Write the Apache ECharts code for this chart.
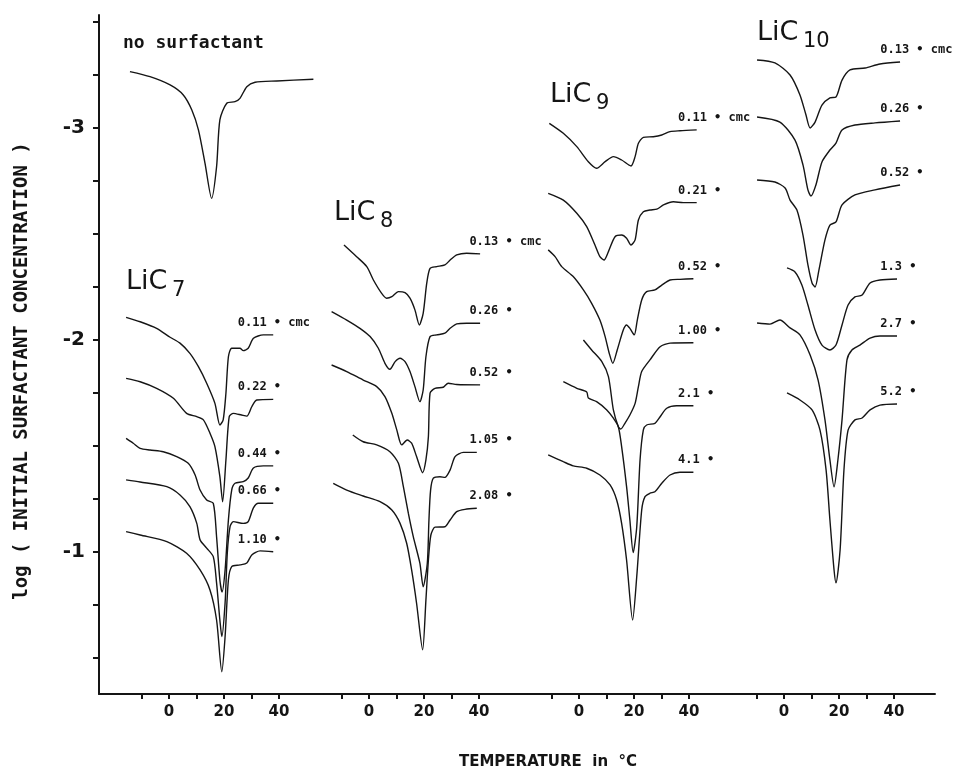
<!DOCTYPE html>
<html lang="en">
<head>
<meta charset="UTF-8">
<title>log initial surfactant concentration vs temperature</title>
<style>
  html, body { margin: 0; padding: 0; background: #fff; }
  #main { width: 956px; height: 770px; }
</style>
</head>
<body>
<div id="main"></div>
<script src="https://cdn.jsdelivr.net/npm/echarts@6/dist/echarts.min.js"></script>
<script>
// axis ticks
var tempTicks = [-10, 0, 10, 20, 30, 40];
var tempLabels = [0, 20, 40];
var logTicks = [-3.5, -3.25, -3, -2.75, -2.5, -2.25, -2, -1.75, -1.5, -1.25, -1, -0.75, -0.5];
var logLabels = [-3, -2, -1];

// traces, [temperature in C, log(initial surfactant concentration)]
var noSurfactant = [[-14.2,-3.266],[-6.9,-3.242],[0.4,-3.203],[5.2,-3.156],[8.3,-3.085],[10.7,-2.991],[13.1,-2.833],[15.5,-2.668],[17.3,-2.817],[18.5,-3.038],[21.0,-3.117],[24.0,-3.124],[25.8,-3.140],[28.3,-3.195],[31.3,-3.216],[39.2,-3.222],[52.5,-3.230]];

var lic7_011 = [[-15.6,-2.107],[-10.5,-2.086],[-4.5,-2.055],[0.4,-2.013],[4.0,-1.985],[7.6,-1.937],[10.7,-1.874],[13.7,-1.796],[16.7,-1.701],[18.5,-1.599],[19.7,-1.623],[20.7,-1.749],[21.6,-1.921],[22.8,-1.961],[25.8,-1.961],[27.0,-1.950],[28.8,-1.961],[30.7,-2.008],[34.3,-2.024],[37.9,-2.024]];
var lic7_022 = [[-15.6,-1.819],[-10.5,-1.803],[-4.5,-1.772],[1.6,-1.725],[6.4,-1.654],[10.1,-1.638],[12.5,-1.623],[14.9,-1.560],[16.7,-1.497],[18.5,-1.355],[19.5,-1.237],[20.7,-1.434],[21.9,-1.638],[23.4,-1.654],[26.4,-1.646],[28.3,-1.641],[30.1,-1.685],[31.9,-1.717],[37.9,-1.720]];
var lic7_044 = [[-15.6,-1.536],[-13.0,-1.513],[-10.5,-1.489],[-6.9,-1.481],[-2.1,-1.473],[2.8,-1.450],[7.0,-1.418],[9.5,-1.363],[11.3,-1.292],[13.7,-1.245],[16.1,-1.230],[17.3,-1.072],[18.5,-0.868],[19.3,-0.811],[20.4,-0.915],[21.6,-1.151],[22.8,-1.292],[24.0,-1.324],[27.0,-1.332],[28.8,-1.349],[30.7,-1.396],[34.3,-1.406],[37.9,-1.406]];
var lic7_066 = [[-15.6,-1.340],[-10.5,-1.330],[-0.8,-1.308],[4.0,-1.269],[7.6,-1.214],[10.1,-1.135],[11.3,-1.057],[13.7,-1.018],[16.1,-0.978],[17.3,-0.854],[18.5,-0.679],[19.2,-0.601],[20.4,-0.760],[21.2,-0.995],[22.2,-1.119],[23.4,-1.143],[27.0,-1.135],[28.8,-1.143],[30.7,-1.208],[32.5,-1.230],[37.9,-1.230]];
var lic7_110 = [[-15.6,-1.096],[-10.5,-1.080],[-0.8,-1.049],[6.4,-0.994],[11.3,-0.915],[14.9,-0.821],[17.3,-0.679],[19.2,-0.435],[20.4,-0.601],[21.6,-0.868],[22.8,-0.931],[25.8,-0.939],[28.3,-0.948],[30.1,-0.986],[33.1,-1.005],[37.9,-1.001]];

var lic8_013 = [[-9.1,-2.448],[-4.5,-2.393],[-0.8,-2.346],[1.6,-2.283],[4.6,-2.220],[6.4,-2.197],[8.3,-2.204],[10.7,-2.228],[13.1,-2.223],[14.9,-2.197],[16.7,-2.142],[18.3,-2.071],[19.7,-2.126],[21.0,-2.268],[22.2,-2.338],[24.6,-2.346],[27.6,-2.354],[29.5,-2.377],[31.9,-2.401],[35.5,-2.409],[40.4,-2.406]];
var lic8_026 = [[-13.6,-2.134],[-8.1,-2.094],[-3.3,-2.055],[0.4,-2.016],[3.4,-1.961],[5.8,-1.890],[7.6,-1.862],[9.5,-1.898],[11.3,-1.914],[13.1,-1.898],[14.9,-1.851],[16.7,-1.780],[18.5,-1.709],[19.7,-1.764],[20.7,-1.921],[22.2,-2.016],[24.6,-2.024],[27.6,-2.032],[29.5,-2.055],[31.9,-2.076],[35.5,-2.079],[40.4,-2.079]];
var lic8_052 = [[-13.6,-1.882],[-8.1,-1.851],[-2.1,-1.811],[2.8,-1.780],[5.8,-1.733],[8.3,-1.654],[10.1,-1.576],[11.9,-1.505],[13.9,-1.528],[15.5,-1.513],[17.3,-1.450],[19.5,-1.374],[20.7,-1.434],[21.6,-1.544],[22.2,-1.749],[24.0,-1.772],[27.0,-1.777],[28.8,-1.796],[31.9,-1.790],[40.4,-1.788]];
var lic8_105 = [[-5.9,-1.552],[-2.1,-1.520],[2.8,-1.505],[7.6,-1.473],[10.7,-1.418],[12.5,-1.308],[14.3,-1.183],[16.1,-1.072],[18.5,-0.947],[19.7,-0.836],[21.2,-0.947],[21.8,-1.151],[22.4,-1.292],[23.4,-1.348],[25.8,-1.355],[27.6,-1.352],[29.5,-1.387],[31.3,-1.450],[34.3,-1.470],[39.2,-1.470]];
var lic8_208 = [[-13.0,-1.324],[-8.1,-1.292],[-2.1,-1.264],[4.0,-1.237],[8.3,-1.198],[11.3,-1.135],[13.7,-1.041],[15.5,-0.915],[17.3,-0.758],[19.5,-0.538],[20.7,-0.774],[21.6,-0.962],[22.5,-1.080],[24.0,-1.117],[27.6,-1.119],[29.5,-1.151],[31.9,-1.190],[34.9,-1.201],[39.2,-1.206]];

var lic9_011 = [[-10.8,-3.022],[-5.7,-2.975],[-0.8,-2.912],[3.4,-2.841],[6.4,-2.810],[9.5,-2.841],[12.5,-2.865],[15.5,-2.849],[18.9,-2.821],[20.4,-2.865],[21.6,-2.928],[23.4,-2.956],[27.0,-2.959],[30.1,-2.967],[33.1,-2.983],[36.7,-2.987],[42.8,-2.991]];
var lic9_021 = [[-11.2,-2.692],[-5.7,-2.660],[-0.8,-2.598],[2.8,-2.535],[5.8,-2.448],[7.6,-2.393],[9.1,-2.377],[10.7,-2.417],[13.1,-2.487],[15.5,-2.495],[17.3,-2.480],[18.9,-2.448],[20.4,-2.472],[21.6,-2.566],[23.4,-2.605],[25.8,-2.613],[28.3,-2.617],[30.7,-2.637],[34.3,-2.652],[37.9,-2.648],[42.8,-2.648]];
var lic9_052 = [[-11.2,-2.425],[-8.7,-2.393],[-6.3,-2.346],[-2.1,-2.299],[1.6,-2.236],[4.6,-2.173],[7.6,-2.094],[9.5,-2.016],[11.0,-1.937],[12.3,-1.890],[13.9,-1.953],[16.1,-2.047],[17.3,-2.071],[18.5,-2.055],[20.1,-2.024],[21.2,-2.094],[22.8,-2.189],[24.6,-2.228],[27.6,-2.236],[30.1,-2.259],[33.1,-2.283],[36.7,-2.286],[41.6,-2.289]];
var lic9_100 = [[1.6,-2.000],[4.6,-1.953],[8.3,-1.898],[10.7,-1.827],[12.5,-1.670],[14.3,-1.591],[15.2,-1.580],[16.7,-1.607],[18.5,-1.646],[20.4,-1.701],[21.6,-1.780],[22.8,-1.851],[25.8,-1.906],[29.5,-1.968],[33.1,-1.985],[41.6,-1.987]];
var lic9_21 = [[-5.7,-1.803],[-0.8,-1.772],[2.8,-1.755],[3.4,-1.726],[6.4,-1.709],[10.1,-1.670],[12.5,-1.631],[14.3,-1.591],[15.5,-1.497],[17.3,-1.308],[18.5,-1.151],[19.7,-0.997],[21.0,-1.119],[22.2,-1.434],[23.4,-1.576],[24.6,-1.599],[27.6,-1.607],[29.5,-1.638],[31.9,-1.678],[35.5,-1.690],[41.6,-1.690]];
var lic9_41 = [[-11.2,-1.458],[-5.7,-1.426],[-2.1,-1.406],[2.8,-1.395],[7.6,-1.363],[11.3,-1.316],[13.7,-1.245],[15.5,-1.135],[17.3,-0.962],[19.5,-0.679],[21.0,-0.884],[22.8,-1.198],[24.0,-1.261],[25.8,-1.277],[27.6,-1.284],[30.1,-1.324],[33.1,-1.363],[36.7,-1.376],[41.6,-1.376]];

var lic10_013 = [[-9.8,-3.321],[-3.3,-3.307],[2.2,-3.250],[5.8,-3.156],[8.0,-3.061],[9.5,-3.000],[11.3,-3.028],[13.8,-3.108],[16.7,-3.142],[18.9,-3.146],[21.1,-3.226],[24.0,-3.274],[29.5,-3.283],[34.9,-3.302],[42.2,-3.311]];
var lic10_026 = [[-9.8,-3.052],[-1.5,-3.028],[4.0,-2.943],[6.9,-2.826],[8.7,-2.708],[9.8,-2.679],[11.6,-2.731],[13.8,-2.840],[16.7,-2.896],[18.9,-2.929],[21.1,-2.991],[25.8,-3.014],[33.1,-3.024],[42.2,-3.033]];
var lic10_052 = [[-9.8,-2.755],[-3.3,-2.745],[0.4,-2.717],[2.2,-2.660],[4.7,-2.613],[6.9,-2.495],[8.7,-2.354],[10.2,-2.269],[11.3,-2.250],[12.7,-2.330],[14.9,-2.472],[16.7,-2.542],[18.9,-2.557],[21.1,-2.637],[25.8,-2.684],[33.1,-2.708],[42.2,-2.731]];
var lic10_13 = [[1.1,-2.340],[4.0,-2.321],[6.5,-2.259],[8.7,-2.165],[11.3,-2.047],[13.8,-1.976],[16.7,-1.953],[18.9,-1.976],[21.1,-2.071],[23.3,-2.165],[25.8,-2.203],[28.4,-2.212],[31.3,-2.269],[34.9,-2.283],[41.1,-2.288]];
var lic10_27 = [[-9.8,-2.080],[-5.1,-2.075],[-1.5,-2.094],[2.2,-2.057],[5.8,-2.024],[9.5,-1.929],[12.4,-1.811],[14.9,-1.623],[16.7,-1.434],[18.2,-1.307],[19.6,-1.434],[21.1,-1.623],[22.9,-1.906],[24.7,-1.953],[27.6,-1.976],[31.3,-2.009],[34.9,-2.019],[41.1,-2.019]];
var lic10_52 = [[1.1,-1.750],[5.8,-1.717],[10.2,-1.670],[13.1,-1.575],[15.3,-1.387],[16.7,-1.151],[18.2,-0.915],[18.9,-0.854],[20.4,-1.009],[21.8,-1.387],[23.3,-1.575],[25.8,-1.623],[28.4,-1.632],[31.3,-1.670],[34.9,-1.693],[41.1,-1.698]];

// one panel per surfactant, each with its own temperature axis
var panels = [
    {sub: '7', left: 99, right: 324, zeroPx: 169, labelT: 25, titleAt: [126, 282],
     curves: [['0.11 • cmc', lic7_011], ['0.22 •', lic7_022], ['0.44 •', lic7_044], ['0.66 •', lic7_066], ['1.10 •', lic7_110]]},
    {sub: '8', left: 324, right: 528, zeroPx: 369, labelT: 36.5, titleAt: [334, 213],
     curves: [['0.13 • cmc', lic8_013], ['0.26 •', lic8_026], ['0.52 •', lic8_052], ['1.05 •', lic8_105], ['2.08 •', lic8_208]]},
    {sub: '9', left: 528, right: 733, zeroPx: 579, labelT: 36, titleAt: [550, 95],
     curves: [['0.11 • cmc', lic9_011], ['0.21 •', lic9_021], ['0.52 •', lic9_052], ['1.00 •', lic9_100], ['2.1 •', lic9_21], ['4.1 •', lic9_41]]},
    {sub: '10', left: 733, right: 935, zeroPx: 784, labelT: 35, titleAt: [757, 33],
     curves: [['0.13 • cmc', lic10_013], ['0.26 •', lic10_026], ['0.52 •', lic10_052], ['1.3 •', lic10_13], ['2.7 •', lic10_27], ['5.2 •', lic10_52]]}
];

var pxPerDeg = 2.75;
var ink = '#151515';

var grids = [], xAxes = [], yAxes = [], series = [];
panels.forEach(function (p, i) {
    grids.push({left: p.left, width: p.right - p.left, top: 15, bottom: 76});
    xAxes.push({
        type: 'value', gridIndex: i,
        min: (p.left - p.zeroPx) / pxPerDeg,
        max: (p.right - p.zeroPx) / pxPerDeg,
        axisLine: {onZero: false, lineStyle: {color: ink, width: 2}},
        axisTick: {customValues: tempTicks, length: 5, lineStyle: {color: ink, width: 2}},
        axisLabel: {customValues: tempLabels, margin: 11, color: ink, fontFamily: 'DejaVu Sans', fontWeight: 'bold', fontSize: 15},
        splitLine: {show: false}
    });
    yAxes.push({
        type: 'value', gridIndex: i, inverse: true,
        min: -3.533, max: -0.33,
        show: i === 0,
        axisLine: {show: true, onZero: false, lineStyle: {color: ink, width: 2}},
        axisTick: {customValues: logTicks, length: 6, lineStyle: {color: ink, width: 2}},
        axisLabel: {customValues: logLabels, margin: 14, color: ink, fontFamily: 'DejaVu Sans', fontWeight: 'bold', fontSize: 20},
        splitLine: {show: false}
    });
    var traces = p.curves.slice();
    if (i === 0) traces.unshift(['no surfactant', noSurfactant]);
    traces.forEach(function (c) {
        series.push({
            name: c[0], type: 'line', xAxisIndex: i, yAxisIndex: i,
            data: c[1], showSymbol: false, smooth: 0.25, clip: false,
            lineStyle: {color: ink, width: 1.4}
        });
    });
});

var chart = echarts.init(document.getElementById('main'));
chart.setOption({
    animation: false,
    backgroundColor: '#fff',
    grid: grids, xAxis: xAxes, yAxis: yAxes, series: series
});

// text placed after the axes exist
var graphics = [
    {type: 'text', x: 123, y: 43, style: {text: 'no surfactant', font: 'bold 18px "DejaVu Sans Mono"', fill: ink, verticalAlign: 'middle'}},
    {type: 'text', x: 22, y: 371, rotation: Math.PI / 2,
     style: {text: 'log ( INITIAL SURFACTANT CONCENTRATION )', font: 'bold 19px "DejaVu Sans Mono"', fill: ink, align: 'center', verticalAlign: 'middle'}},
    {type: 'text', x: 548, y: 762, style: {text: 'TEMPERATURE  in  °C', font: 'bold 15px "DejaVu Sans"', fill: ink, align: 'center', verticalAlign: 'middle'}}
];
panels.forEach(function (p, i) {
    graphics.push({type: 'text', x: p.titleAt[0], y: p.titleAt[1], style: {text: 'LiC', font: '27px "DejaVu Sans"', fill: ink, verticalAlign: 'middle'}});
    graphics.push({type: 'text', x: p.titleAt[0] + 46, y: p.titleAt[1] + 9, style: {text: p.sub, font: '21px "DejaVu Sans"', fill: ink, verticalAlign: 'middle'}});
    p.curves.forEach(function (c) {
        var last = c[1][c[1].length - 1];
        var pt = chart.convertToPixel({xAxisIndex: i, yAxisIndex: i}, [p.labelT, last[1]]);
        graphics.push({type: 'text', x: pt[0], y: pt[1] - 12,
            style: {text: c[0], font: 'bold 12px "DejaVu Sans Mono"', fill: ink, verticalAlign: 'middle'}});
    });
});
chart.setOption({graphic: graphics});
</script>
</body>
</html>
